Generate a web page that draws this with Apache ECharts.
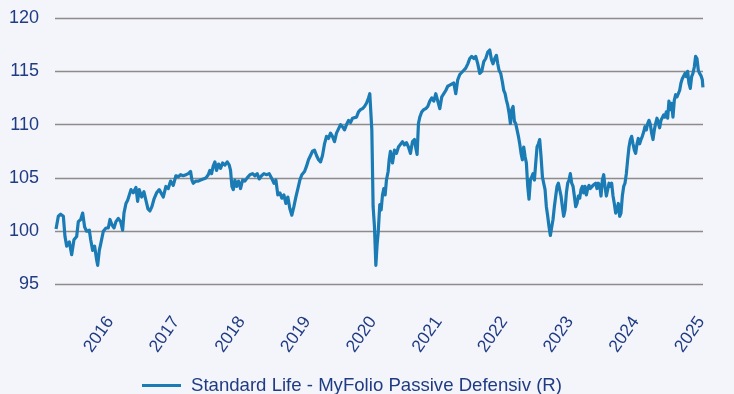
<!DOCTYPE html>
<html>
<head>
<meta charset="utf-8">
<script src="https://cdn.jsdelivr.net/npm/echarts@6/dist/echarts.min.js"></script>
<style>
  html, body { margin: 0; padding: 0; background: #f4f5fb; }
  #chart { width: 734px; height: 394px; }
</style>
</head>
<body>
<div id="chart"></div>
<script>
// Fund index level over time (decimal years on x)
const seriesName = 'Standard Life - MyFolio Passive Defensiv (R)';

const years = [
  2015.515, 2015.549, 2015.583, 2015.623, 2015.647, 2015.672, 2015.711, 2015.745, 2015.779, 2015.819,
  2015.843, 2015.878, 2015.907, 2015.936, 2015.966, 2016.005, 2016.025, 2016.054, 2016.083, 2016.113,
  2016.128, 2016.152, 2016.176, 2016.211, 2016.250, 2016.284, 2016.309, 2016.338, 2016.368, 2016.397,
  2016.431, 2016.466, 2016.495, 2016.515, 2016.544, 2016.569, 2016.593, 2016.618, 2016.652, 2016.691,
  2016.716, 2016.740, 2016.775, 2016.809, 2016.838, 2016.868, 2016.897, 2016.926, 2016.956, 2016.995,
  2017.034, 2017.093, 2017.132, 2017.167, 2017.201, 2017.240, 2017.279, 2017.314, 2017.348, 2017.387,
  2017.426, 2017.461, 2017.495, 2017.515, 2017.534, 2017.574, 2017.608, 2017.642, 2017.681, 2017.721,
  2017.755, 2017.779, 2017.804, 2017.828, 2017.853, 2017.877, 2017.907, 2017.936, 2017.966, 2018.000,
  2018.034, 2018.064, 2018.083, 2018.103, 2018.123, 2018.147, 2018.172, 2018.201, 2018.230, 2018.260,
  2018.294, 2018.328, 2018.368, 2018.407, 2018.441, 2018.475, 2018.505, 2018.539, 2018.574, 2018.613,
  2018.652, 2018.701, 2018.721, 2018.750, 2018.779, 2018.809, 2018.838, 2018.868, 2018.897, 2018.926,
  2018.956, 2018.985, 2019.015, 2019.044, 2019.074, 2019.103, 2019.132, 2019.172, 2019.201, 2019.230,
  2019.260, 2019.289, 2019.319, 2019.348, 2019.378, 2019.407, 2019.436, 2019.466, 2019.495, 2019.525,
  2019.554, 2019.583, 2019.613, 2019.642, 2019.672, 2019.701, 2019.730, 2019.760, 2019.789, 2019.819,
  2019.848, 2019.878, 2019.907, 2019.936, 2019.966, 2019.995, 2020.025, 2020.054, 2020.083, 2020.113,
  2020.132, 2020.162, 2020.181, 2020.201, 2020.221, 2020.240, 2020.255, 2020.279, 2020.299, 2020.319,
  2020.338, 2020.358, 2020.377, 2020.402, 2020.417, 2020.436, 2020.466, 2020.495, 2020.525, 2020.554,
  2020.583, 2020.613, 2020.642, 2020.672, 2020.701, 2020.730, 2020.760, 2020.789, 2020.809, 2020.828,
  2020.848, 2020.868, 2020.897, 2020.926, 2020.956, 2020.985, 2021.015, 2021.044, 2021.074, 2021.103,
  2021.132, 2021.162, 2021.191, 2021.221, 2021.250, 2021.279, 2021.309, 2021.338, 2021.368, 2021.397,
  2021.426, 2021.456, 2021.485, 2021.515, 2021.544, 2021.574, 2021.603, 2021.632, 2021.662, 2021.691,
  2021.721, 2021.750, 2021.779, 2021.809, 2021.838, 2021.868, 2021.897, 2021.922, 2021.946, 2021.971,
  2021.995, 2022.015, 2022.034, 2022.059, 2022.083, 2022.103, 2022.123, 2022.142, 2022.162, 2022.181,
  2022.201, 2022.221, 2022.240, 2022.260, 2022.279, 2022.299, 2022.319, 2022.338, 2022.358, 2022.377,
  2022.397, 2022.417, 2022.436, 2022.456, 2022.475, 2022.495, 2022.515, 2022.534, 2022.554, 2022.574,
  2022.593, 2022.613, 2022.632, 2022.652, 2022.672, 2022.691, 2022.711, 2022.730, 2022.750, 2022.770,
  2022.789, 2022.809, 2022.828, 2022.848, 2022.868, 2022.887, 2022.907, 2022.926, 2022.946, 2022.966,
  2022.985, 2023.005, 2023.025, 2023.044, 2023.064, 2023.083, 2023.103, 2023.123, 2023.142, 2023.162,
  2023.181, 2023.201, 2023.221, 2023.240, 2023.260, 2023.279, 2023.299, 2023.319, 2023.338, 2023.358,
  2023.377, 2023.397, 2023.417, 2023.436, 2023.456, 2023.475, 2023.495, 2023.515, 2023.534, 2023.554,
  2023.574, 2023.593, 2023.613, 2023.632, 2023.652, 2023.672, 2023.691, 2023.711, 2023.730, 2023.750,
  2023.770, 2023.789, 2023.809, 2023.828, 2023.848, 2023.868, 2023.887, 2023.907, 2023.926, 2023.946,
  2023.966, 2023.985, 2024.005, 2024.025, 2024.044, 2024.064, 2024.083, 2024.103, 2024.123, 2024.142,
  2024.162, 2024.181, 2024.201, 2024.221, 2024.240, 2024.260, 2024.279, 2024.299, 2024.319, 2024.338,
  2024.358, 2024.377, 2024.397, 2024.417, 2024.436, 2024.456, 2024.475, 2024.495, 2024.515, 2024.534,
  2024.554, 2024.574, 2024.593, 2024.613, 2024.632, 2024.652, 2024.672, 2024.691, 2024.711, 2024.730,
  2024.750, 2024.770, 2024.789, 2024.809, 2024.828, 2024.848, 2024.868, 2024.887, 2024.907, 2024.926,
  2024.946, 2024.966, 2024.985, 2025.005, 2025.025, 2025.034
];

const values = [
  100.2, 101.4, 101.6, 101.4, 99.5, 98.6, 99.0, 97.8, 99.2, 99.5,
  100.9, 101.1, 101.7, 100.4, 100.0, 100.1, 99.2, 98.2, 98.6, 97.3,
  96.8, 98.2, 98.9, 100.0, 100.3, 100.3, 101.1, 100.6, 100.3, 100.9,
  101.2, 100.9, 100.1, 101.7, 102.6, 102.9, 102.9, 103.9, 103.6, 104.1,
  102.8, 103.9, 103.2, 103.7, 102.9, 102.1, 101.9, 102.3, 103.0, 103.6,
  103.9, 103.2, 104.2, 104.0, 104.7, 104.3, 105.2, 105.1, 105.3, 105.2,
  105.3, 105.4, 105.6, 104.8, 104.5, 104.7, 104.7, 104.8, 104.9, 105.0,
  105.3, 105.7, 105.4, 106.1, 106.5, 105.7, 106.3, 105.9, 106.4, 106.2,
  106.5, 106.2, 105.7, 104.2, 103.9, 104.8, 104.2, 104.7, 104.0, 104.8,
  104.7, 105.0, 105.3, 105.4, 105.2, 105.4, 104.9, 105.2, 105.4, 105.3,
  105.4, 104.8, 104.5, 104.8, 103.4, 103.6, 103.1, 103.4, 102.6, 103.2,
  102.1, 101.5, 102.3, 103.2, 104.0, 104.8, 105.3, 105.6, 106.1, 106.7,
  107.1, 107.5, 107.6, 107.1, 106.7, 106.5, 107.1, 108.2, 108.9, 108.7,
  109.2, 108.9, 108.4, 109.2, 109.6, 110.0, 109.8, 109.5, 110.0, 110.4,
  110.2, 110.6, 110.5, 110.7, 111.2, 111.4, 111.5, 111.7, 112.0, 112.5,
  112.9, 109.5, 102.3, 100.4, 96.8, 98.8, 99.8, 102.5, 102.0, 103.4,
  104.0, 103.4, 104.8, 105.6, 106.7, 107.5, 106.4, 107.6, 107.3, 107.9,
  107.8, 108.4, 108.1, 108.3, 107.9, 107.3, 108.4, 108.6, 107.8, 107.2,
  110.1, 110.7, 111.2, 111.4, 111.5, 111.7, 112.2, 112.5, 112.2, 112.9,
  113.0, 111.5, 112.6, 112.9, 113.2, 113.6, 113.7, 113.6, 113.9, 112.9,
  114.2, 114.7, 114.8, 115.1, 115.3, 115.7, 116.2, 116.4, 116.2, 116.4,
  115.7, 114.8, 115.0, 115.9, 116.2, 116.8, 117.0, 116.1, 115.7, 116.2,
  116.5, 115.7, 115.1, 114.8, 114.0, 113.2, 112.9, 112.3, 111.8, 111.1,
  110.1, 111.4, 111.7, 110.3, 110.1, 109.5, 108.9, 108.2, 107.3, 106.7,
  107.9, 107.0, 106.4, 104.2, 103.0, 104.8, 105.1, 105.4, 104.8, 106.4,
  107.9, 108.2, 108.6, 107.0, 105.1, 104.5, 103.9, 102.3, 101.4, 100.4,
  99.6, 100.4, 101.1, 102.3, 103.3, 104.2, 104.5, 104.4, 103.3, 102.3,
  101.4, 102.0, 103.6, 104.5, 104.8, 105.4, 104.5, 104.2, 103.3, 102.3,
  102.6, 103.3, 103.1, 103.9, 104.2, 103.6, 104.2, 103.4, 104.0, 104.3,
  104.0, 103.9, 104.3, 104.2, 104.5, 104.0, 104.5, 104.3, 103.3, 104.8,
  105.3, 104.2, 103.3, 103.9, 104.5, 104.2, 104.5, 103.3, 102.6, 101.7,
  102.0, 102.6, 101.4, 101.7, 103.3, 104.2, 104.5, 105.4, 106.7, 107.9,
  108.6, 108.9, 108.2, 107.6, 107.3, 108.2, 108.7, 108.2, 108.6, 108.9,
  109.3, 109.8, 109.5, 110.1, 110.4, 110.0, 109.2, 108.6, 109.5, 110.1,
  110.6, 110.7, 109.7, 110.4, 110.4, 110.9, 110.7, 111.2, 110.6, 112.2,
  111.4, 112.0, 110.7, 112.3, 112.8, 112.6, 112.9, 113.2, 113.9, 114.3,
  114.2, 114.8, 114.5, 115.0, 113.9, 113.4, 114.5, 114.8, 115.4, 116.4,
  116.2, 115.1, 114.8, 114.6, 114.2, 113.5
];

// Year labels shown under the time axis
const yearLabels = [2016, 2017, 2018, 2019, 2020, 2021, 2022, 2023, 2024, 2025];
// Value axis range and step
const yMin = 95, yMax = 120, yStep = 5;

const textColor = '#1f3b83';
const lineColor = '#1a7bb5';
const font = '"Liberation Sans", Arial, sans-serif';

const points = years.map((y, i) => [y, values[i]]);

const chart = echarts.init(document.getElementById('chart'), null, { renderer: 'canvas' });
chart.setOption({
  backgroundColor: '#f4f5fb',
  animation: false,
  textStyle: { fontFamily: font },
  grid: [
    { left: 55, right: 31, top: 18, bottom: 109.5 },
    // label band: same scale, shifted so year names sit after each year start
    { left: 77.4, width: 680, top: 18, bottom: 109.5 }
  ],
  legend: {
    left: 137,
    top: 371,
    icon: 'rect',
    itemWidth: 39,
    itemHeight: 3,
    itemGap: 0,
    textStyle: { color: textColor, fontSize: 18.6, fontFamily: font, padding: [0, 0, 0, 5] },
    data: [seriesName]
  },
  xAxis: [
    {
      type: 'value',
      gridIndex: 0,
      min: 2015.5,
      max: 2025.035,
      axisLine: { show: false },
      axisTick: { show: false },
      axisLabel: { show: false },
      splitLine: { show: false }
    },
    {
      type: 'value',
      gridIndex: 1,
      min: 2015.5,
      max: 2025.5,
      axisLine: { show: false },
      axisTick: { show: false },
      splitLine: { show: false },
      axisLabel: {
        customValues: yearLabels,
        rotate: 55,
        margin: 34,
        color: textColor,
        fontSize: 17.5,
        fontFamily: font,
        formatter: v => String(Math.round(v))
      }
    }
  ],
  yAxis: [
    {
      type: 'value',
      gridIndex: 0,
      min: yMin,
      max: yMax,
      interval: yStep,
      axisLine: { show: false },
      axisTick: { show: false },
      axisLabel: { color: textColor, fontSize: 18, margin: 16, fontFamily: font },
      splitLine: { lineStyle: { color: '#8c8c88', width: 1.4 } }
    },
    { type: 'value', gridIndex: 1, min: 0, max: 1, show: false }
  ],
  series: [
    {
      name: seriesName,
      type: 'line',
      xAxisIndex: 0,
      yAxisIndex: 0,
      data: points,
      symbol: 'none',
      lineStyle: { color: lineColor, width: 3.2, join: 'round' },
      itemStyle: { color: lineColor }
    }
  ]
});
</script>
</body>
</html>
